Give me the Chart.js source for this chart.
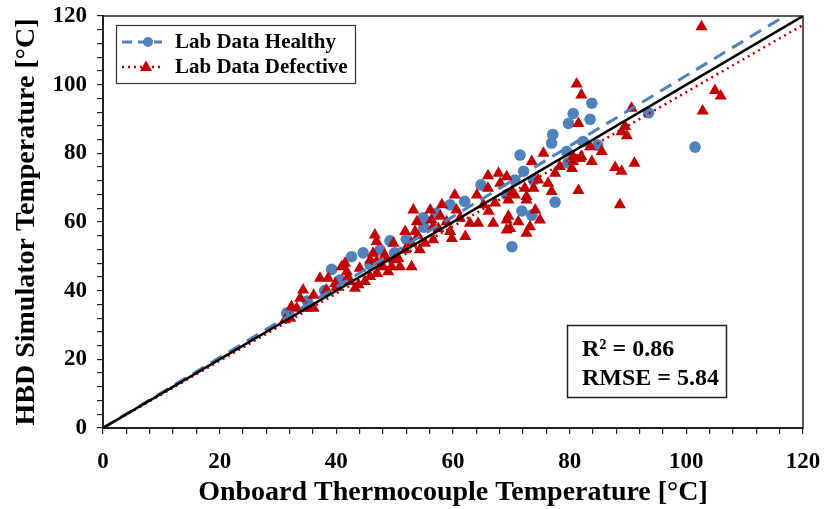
<!DOCTYPE html>
<html><head><meta charset="utf-8">
<script src="https://cdn.jsdelivr.net/npm/chart.js@4.4.1/dist/chart.umd.min.js"></script>
<style>html,body{margin:0;padding:0;background:#fff}</style>
</head><body>
<canvas id="c" width="829" height="509"></canvas>
<script>
// ---- data ----
const healthyX = [31.5,35,38,39.2,40.6,42.6,44.6,45.8,47.5,49.2,50.0,52,54.9,55,57.2,59.5,62.0,64.8,69.2,70.1,70.6,71.5,71.8,72.1,73.5,73.8,76.9,77.1,77.5,79.5,79.7,79.8,80.6,82.3,83.5,83.8,84.8,93.5,101.5];
const healthyY = [33.5,37,40,46.2,43.1,49.9,51.0,47.5,51.9,54.5,51.0,55,61.2,58.5,62.5,65.0,66.0,70.8,67.9,52.8,72.2,79.5,63.2,74.8,62.0,72.2,83.0,85.5,65.8,80.5,77.2,88.7,91.6,83.4,89.9,94.6,82.4,91.8,81.8];
const defectiveX = [31.2,32.1,32.3,33.2,33.8,34.3,34.9,36.1,36.1,37.2,38.3,38.6,39.8,40,40.9,41.5,41.8,42,42.3,43.2,43.8,44,44.9,45.8,45.8,46.3,46.6,46.9,46.9,47,48.0,48.3,48.3,48.9,49.5,49.8,50,50.6,50.9,51.8,51.8,52.9,52.9,53.2,53.5,53.8,54,54.3,55.2,56.1,56.3,56.6,56.6,57.5,57.8,58.1,58.9,59.5,59.8,60.3,60.6,61.2,62.1,62.9,64.1,64.3,65.2,66.0,66.0,66.1,66.9,67.2,67.8,68.1,69.2,69.2,69.2,69.5,69.5,69.8,70.1,70.6,71.2,72.3,72.6,72.6,72.6,73.2,73.5,73.8,74.1,74.6,74.9,75.5,76.3,76.9,77.5,78.3,80.4,80.6,80.6,81.2,81.5,81.5,81.8,82.0,82.0,83.5,83.8,85.5,87.8,88.6,88.9,88.9,89.5,89.8,90.6,91.1,102.6,102.8,104.9,105.9];
const defectiveY = [31.5,32.0,35.3,34.9,37.8,40.2,34.9,38.7,34.9,43.6,40.2,43.6,42.1,41,47.0,48.0,45.5,44,42.7,40.7,41.7,46.5,42.7,44.1,48.9,50.9,56.2,54.3,48.5,45,47.0,49.4,50.4,45.5,47.0,53.8,49,49.4,47.0,57.2,51.9,47.0,53.8,63.5,57.2,60.1,56,51.9,53.8,63.5,60.6,58.7,54.8,58.1,61.7,65.0,60.1,57.2,55.2,67.9,63.5,61.1,55.8,59.6,67.9,59.6,65.0,73.5,69.8,63.1,59.6,65.5,74.2,71.3,73.2,60.6,57.7,66.4,61.7,58.1,68.9,67.9,60.1,69.8,67.4,66.4,56.7,58.6,77.6,69.8,63.5,72.2,60.6,80.0,71.3,68.9,74.2,76.2,75.6,79.1,77.6,100.2,88.7,69.2,78.5,97.0,79.1,81.9,77.6,80.5,75.9,65.0,74.8,86.3,87.8,85.1,93.1,77.1,116.9,92.3,98.3,96.7];
const fitX = [0, 120];
const idealY = [0, 120];
const fitHealthyY = [0, 123.2];
const fitDefectiveY = [0, 117.4];
const xTickLabels = [0, 20, 40, 60, 80, 100, 120];
const yTickLabels = [0, 20, 40, 60, 80, 100, 120];
const legendLabels = ['Lab Data Healthy', 'Lab Data Defective'];
const statLines = ['R² = 0.86', 'RMSE = 5.84'];

const BLUE = '#4F81BD', RED = '#C00000';
const FONT = "'Liberation Serif', 'Times New Roman', serif";
const pts = (xs, ys) => xs.map((x, i) => ({x, y: ys[i]}));

const frame = {
  id: 'frame',
  afterDraw(chart) {
    const {ctx, chartArea: a} = chart;
    ctx.save();
    ctx.strokeStyle = '#222'; ctx.lineWidth = 1.5;
    ctx.strokeRect(a.left, a.top, a.right - a.left, a.bottom - a.top);
    // legend box
    ctx.fillStyle = '#fff'; ctx.lineWidth = 1.2; ctx.strokeStyle = '#333';
    ctx.fillRect(116.5, 25.5, 239, 58); ctx.strokeRect(116.5, 25.5, 239, 58);
    // healthy sample
    ctx.strokeStyle = BLUE; ctx.lineWidth = 3; ctx.setLineDash([10, 6]);
    ctx.beginPath(); ctx.moveTo(122, 42); ctx.lineTo(162, 42); ctx.stroke();
    ctx.setLineDash([]); ctx.fillStyle = BLUE;
    ctx.beginPath(); ctx.arc(148, 42, 5, 0, Math.PI * 2); ctx.fill();
    // defective sample
    ctx.strokeStyle = RED; ctx.lineWidth = 2.5; ctx.setLineDash([2, 4]);
    ctx.beginPath(); ctx.moveTo(122, 67); ctx.lineTo(162, 67); ctx.stroke();
    ctx.setLineDash([]); ctx.fillStyle = RED;
    ctx.beginPath(); ctx.moveTo(146, 60.5); ctx.lineTo(152, 71); ctx.lineTo(140, 71); ctx.closePath(); ctx.fill();
    ctx.fillStyle = '#000'; ctx.font = 'bold 21px ' + FONT; ctx.textBaseline = 'middle'; ctx.textAlign = 'left';
    ctx.fillText(legendLabels[0], 175, 43);
    ctx.fillText(legendLabels[1], 175, 68);
    // stats box
    ctx.lineWidth = 1.5; ctx.strokeStyle = '#222'; ctx.fillStyle = '#fff';
    ctx.fillRect(567.5, 325.5, 159, 72); ctx.strokeRect(567.5, 325.5, 159, 72);
    ctx.fillStyle = '#000'; ctx.font = 'bold 24px ' + FONT; ctx.textBaseline = 'alphabetic';
    ctx.fillText(statLines[0], 582, 356);
    ctx.fillText(statLines[1], 582, 385);
    ctx.restore();
  }
};

const axisCommon = (title) => ({
  type: 'linear', min: 0, max: 120,
  ticks: {
    stepSize: 4, autoSkip: false, maxRotation: 0, color: '#000',
    font: {family: FONT, size: 23, weight: 'bold'},
    callback: (v) => (xTickLabels.includes(v) ? String(v) : '')
  },
  grid: {display: true, drawOnChartArea: false, drawTicks: true, tickLength: 6, color: '#222', lineWidth: 1.2},
  border: {display: true, color: '#222', width: 2},
  title: {display: true, text: title, color: '#000', font: {family: FONT, size: 28, weight: 'bold', lineHeight: 1}}
});

const xAxis = axisCommon('Onboard Thermocouple Temperature [°C]');
xAxis.ticks.padding = 14;
xAxis.title.padding = {top: 0, bottom: 2};
xAxis.afterFit = (s) => { s.height = 81; s.paddingLeft = 0; s.paddingRight = 0; };
const yAxis = axisCommon('HBD Simulator Temperature [°C]');
yAxis.ticks.callback = (v) => (yTickLabels.includes(v) ? String(v) : '');
yAxis.ticks.padding = 10;
yAxis.title.padding = {top: 13, bottom: 0};
yAxis.afterFit = (s) => { s.width = 103; s.paddingTop = 0; s.paddingBottom = 0; };

new Chart(document.getElementById('c'), {
  type: 'scatter',
  data: {
    datasets: [
      {type: 'line', data: pts(fitX, idealY), borderColor: '#000', borderWidth: 2.5, pointRadius: 0, showLine: true, order: 0},
      {type: 'line', data: pts(fitX, fitHealthyY), borderColor: BLUE, borderWidth: 3, borderDash: [13, 8], pointRadius: 0, showLine: true, order: 1},
      {type: 'line', data: pts(fitX, fitDefectiveY), borderColor: RED, borderWidth: 2.5, borderDash: [2, 4], pointRadius: 0, showLine: true, order: 2},
      {label: legendLabels[1], data: pts(defectiveX, defectiveY), pointStyle: 'triangle', pointRadius: 7, backgroundColor: RED, borderColor: RED, borderWidth: 0, order: 3},
      {label: legendLabels[0], data: pts(healthyX, healthyY), pointStyle: 'circle', pointRadius: 5.8, backgroundColor: BLUE, borderColor: BLUE, borderWidth: 0, order: 4}
    ]
  },
  options: {
    responsive: false, animation: false,
    layout: {padding: {left: 0, right: 26, top: 16, bottom: 0}},
    plugins: {legend: {display: false}, tooltip: {enabled: false}},
    scales: {x: xAxis, y: yAxis}
  },
  plugins: [frame]
});
</script>
</body></html>
